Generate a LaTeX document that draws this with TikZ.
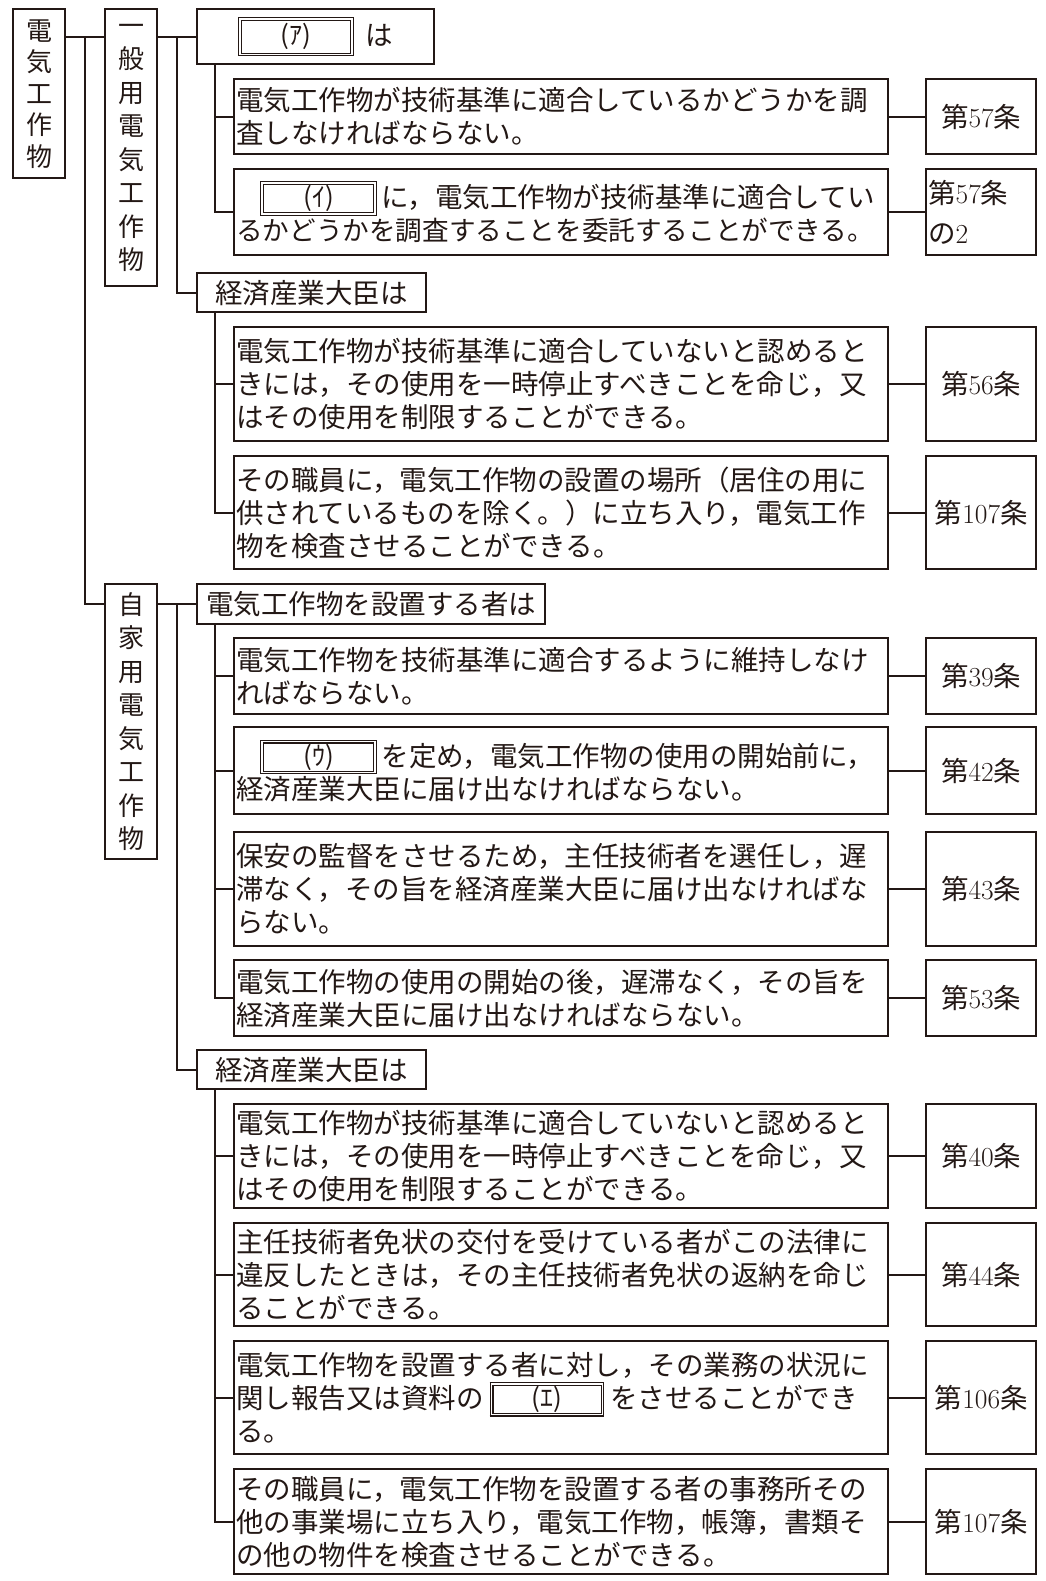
\documentclass[tikz,border=0pt]{standalone}
\usepackage{fontspec}
\usepackage{tikz}
\usetikzlibrary{calc,positioning}
\newfontfamily\jpfont{Noto Sans CJK JP}
\definecolor{ink}{RGB}{35,24,21}
\setlength{\lineskiplimit}{-100pt}
\newcommand{\blankbox}[3]{\raisebox{3pt}{\setlength{\fboxrule}{1.1pt}\setlength{\fboxsep}{1.6pt}\fbox{\setlength{\fboxsep}{0pt}\fbox{\parbox[c][#2][c]{#1}{\centering\fontsize{26}{26}\selectfont #3}}}}}
\newcommand{\jou}[1]{第{\rmfamily #1}条}

\begin{document}
\begin{tikzpicture}[x=1pt,y=-1pt,
    box/.style={draw=ink,text=ink,line width=2.4pt,anchor=north west,inner sep=0pt,font=\jpfont\fontsize{27.5}{33}\selectfont},
    vlabel/.style={box,minimum width=52pt,align=center,font=\jpfont\fontsize{26}{33.5}\selectfont},
    head/.style={box,align=center},
    item/.style={box,inner xsep=2pt,text width=650pt,align=left},
    article/.style={box,minimum width=110pt,align=center},
    link/.style={draw=ink,line width=2.2pt}]
    \useasboundingbox (0,0) rectangle (1045,1581);
    \node[vlabel,minimum height=169pt,font=\jpfont\fontsize{26}{31.5}\selectfont] (denki) at (12,8) {電\\気\\工\\作\\物};
    \node[vlabel,minimum height=277pt] (ippan) at (104,8) {一\\般\\用\\電\\気\\工\\作\\物};
    \node[vlabel,minimum height=275pt] (jika) at (104,583) {自\\家\\用\\電\\気\\工\\作\\物};
    \node[head,minimum width=237pt,minimum height=55pt] (hA) at (196,8) {\blankbox{108pt}{32pt}{(ｱ)}\hspace{12pt}は};
    \node[head,minimum width=229pt,minimum height=39pt] (hK1) at (196,272) {経済産業大臣は};
    \node[head,minimum width=348pt,minimum height=40pt] (hS) at (196,583) {電気工作物を設置する者は};
    \node[head,minimum width=229pt,minimum height=39pt] (hK2) at (196,1049) {経済産業大臣は};
    \node[item,minimum height=75pt] (i1) at (233,78) {電気工作物が技術基準に適合しているかどうかを調\\査しなければならない。};
    \node[item,minimum height=86pt] (i2) at (233,168) {\hspace*{24pt}\blankbox{109pt}{27pt}{(ｲ)}\hspace{5pt}に，電気工作物が技術基準に適合してい\\{\fontsize{26.6}{33}\selectfont るかどうかを調査することを委託することができる。}};
    \node[item,minimum height=114pt] (i3) at (233,326) {電気工作物が技術基準に適合していないと認めると\\きには，その使用を一時停止すべきことを命じ，又\\はその使用を制限することができる。};
    \node[item,minimum height=113pt] (i4) at (233,455) {その職員に，電気工作物の設置の場所（居住の用に\\供されているものを除く。）に立ち入り，電気工作\\物を検査させることができる。};
    \node[item,minimum height=76pt] (i5) at (233,637) {電気工作物を技術基準に適合するように維持しなけ\\ればならない。};
    \node[item,minimum height=87pt] (i6) at (233,726) {\hspace*{24pt}\blankbox{109pt}{27pt}{(ｳ)}\hspace{5pt}を定め，電気工作物の使用の開始前に，\\経済産業大臣に届け出なければならない。};
    \node[item,minimum height=114pt] (i7) at (233,831) {保安の監督をさせるため，主任技術者を選任し，遅\\滞なく，その旨を経済産業大臣に届け出なければな\\らない。};
    \node[item,minimum height=76pt] (i8) at (233,959) {電気工作物の使用の開始の後，遅滞なく，その旨を\\経済産業大臣に届け出なければならない。};
    \node[item,minimum height=104pt] (i9) at (233,1103) {電気工作物が技術基準に適合していないと認めると\\きには，その使用を一時停止すべきことを命じ，又\\はその使用を制限することができる。};
    \node[item,minimum height=103pt] (i10) at (233,1222) {主任技術者免状の交付を受けている者がこの法律に\\違反したときは，その主任技術者免状の返納を命じ\\ることができる。};
    \node[item,minimum height=113pt] (i11) at (233,1340) {電気工作物を設置する者に対し，その業務の状況に\\関し報告又は資料の\hspace{6pt}\blankbox{107pt}{27pt}{(ｴ)}\hspace{6pt}をさせることができ\\る。};
    \node[item,minimum height=105pt] (i12) at (233,1468) {その職員に，電気工作物を設置する者の事務所その\\他の事業場に立ち入り，電気工作物，帳簿，書類そ\\の他の物件を検査させることができる。};
    \node[article,minimum height=75pt] (a1) at (925,78) {\jou{57}};
    \node[article,minimum height=86pt,text width=106pt,inner xsep=2pt,align=left] (a2) at (925,168) {\jou{57}\\[7pt]の{\rmfamily 2}};
    \node[article,minimum height=114pt] (a3) at (925,326) {\jou{56}};
    \node[article,minimum height=113pt] (a4) at (925,455) {\jou{107}};
    \node[article,minimum height=76pt] (a5) at (925,637) {\jou{39}};
    \node[article,minimum height=87pt] (a6) at (925,726) {\jou{42}};
    \node[article,minimum height=114pt] (a7) at (925,831) {\jou{43}};
    \node[article,minimum height=76pt] (a8) at (925,959) {\jou{53}};
    \node[article,minimum height=104pt] (a9) at (925,1103) {\jou{40}};
    \node[article,minimum height=103pt] (a10) at (925,1222) {\jou{44}};
    \node[article,minimum height=113pt] (a11) at (925,1340) {\jou{106}};
    \node[article,minimum height=105pt] (a12) at (925,1468) {\jou{107}};
    \draw[link] (denki.east |- hA.west) -- (ippan.west |- hA.west);
    \coordinate (t0) at ($(denki.east |- hA.west)!0.5!(ippan.west |- hA.west)$);
    \draw[link] (t0) |- (jika.west |- hS.west);
    \draw[link] (ippan.east |- hA.west) -- (hA.west);
    \coordinate (t1) at ($(ippan.east |- hA.west)!0.5!(hA.west)$);
    \draw[link] (t1) |- (hK1.west);
    \draw[link] (jika.east |- hS.west) -- (hS.west);
    \coordinate (t2) at ($(jika.east |- hS.west)!0.5!(hS.west)$);
    \draw[link] (t2) |- (hK2.west);
    \coordinate (g1) at ($(hA.south west)+(19,0)$);
    \coordinate (g2) at ($(hK1.south west)+(19,0)$);
    \coordinate (g3) at ($(hS.south west)+(19,0)$);
    \coordinate (g4) at ($(hK2.south west)+(19,0)$);
    \foreach \n in {1,2} \draw[link] (g1) |- (i\n.west);
    \foreach \n in {3,4} \draw[link] (g2) |- (i\n.west);
    \foreach \n in {5,...,8} \draw[link] (g3) |- (i\n.west);
    \foreach \n in {9,...,12} \draw[link] (g4) |- (i\n.west);
    \foreach \n in {1,...,12} \draw[link] (i\n.east) -- (a\n.west);
\end{tikzpicture}
\end{document}
